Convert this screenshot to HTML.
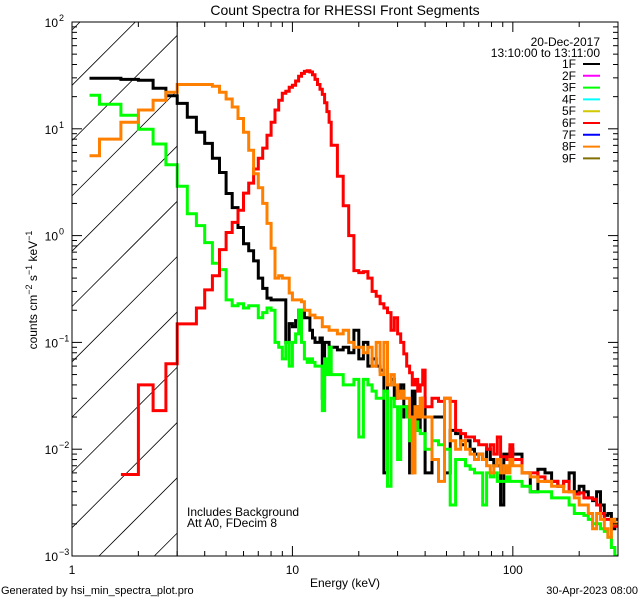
<!DOCTYPE html>
<html><head><meta charset="utf-8">
<style>
html,body{margin:0;padding:0;background:#fff;}
body{width:640px;height:600px;overflow:hidden;}
svg{display:block;}
svg text{font-family:"Liberation Sans",sans-serif;fill:#000;}
</style></head>
<body>
<svg id="chart" width="640" height="600" viewBox="0 0 640 600" xmlns="http://www.w3.org/2000/svg">
<rect width="640" height="600" fill="#fff"/>
<text x="345" y="15" font-size="14" text-anchor="middle">Count Spectra for RHESSI Front Segments</text>
<g id="hatch"></g>
<g id="series"></g>
<g id="axes"></g>
<text transform="translate(37,290) rotate(-90)" font-size="12" text-anchor="middle">counts cm<tspan dy="-5" font-size="9">−2</tspan><tspan dy="5"> s</tspan><tspan dy="-5" font-size="9">−1</tspan><tspan dy="5"> keV</tspan><tspan dy="-5" font-size="9">−1</tspan></text>
<text x="345" y="587" font-size="12" text-anchor="middle">Energy (keV)</text>
<text x="1" y="594" font-size="11">Generated by hsi_min_spectra_plot.pro</text>
<text x="638" y="594" font-size="11" text-anchor="end">30-Apr-2023 08:00</text>
<text x="187" y="516" font-size="12">Includes Background</text>
<text x="187" y="527" font-size="12">Att A0, FDecim 8</text>
<text x="600" y="46" font-size="12" text-anchor="end">20-Dec-2017</text>
<text x="600" y="57" font-size="12" text-anchor="end">13:10:00 to 13:11:00</text>
<g id="legend"></g>
</svg>
<script>
// ---- data: energy bin lower edges (keV) ----
const binEdges = [1.2,1.3333,1.6667,2,2.3333,2.6667,3,3.3333,3.6667,4,4.3333,4.6667,5,5.3333,5.6667,6,6.3333,6.6667,7,7.3333,7.6667,8,8.3333,8.6667,9,9.3333,9.6667,10,10.3333,10.6667,11,11.3333,11.6667,12,12.3333,12.6667,13,13.3333,13.6667,14,14.3333,14.6667,
15,16,17,18,19,20,21,22,23,24,25,26,27,28,29,30,31,32,33,34,35,36,37,38,39,
40,43,46,49,52,55,58,61,64,67,70,73,76,79,82,85,88,91,94,97,
100,110,120,130,140,150,160,170,180,190,200,210,220,230,240,250,260,270,280,290,300];
// ---- series values (counts cm^-2 s^-1 keV^-1) ----
const seg1F = [29.8,29.8,29,28.5,24,20.4,17.3,12.8,9.3,7.3,5.3,3.9,2.48,1.83,1.19,0.84,0.72,0.58,0.40,0.32,0.26,0.25,0.25,0.25,0.25,0.1,0.15,0.14,0.16,0.2,0.2,0.17,0.17,0.13,0.11,0.1,0.1,0.11,0.03,0.1,0.1,0.09,
0.09,0.085,0.09,0.08,0.13,0.07,0.1,0.06,0.07,0.06,0.055,0.006,0.04,0.045,0.03,0.035,0.04,0.02,0.025,0.006,0.035,0.025,0.015,0.025,0.03,
0.006,0.02,0.02,0.006,0.015,0.014,0.011,0.012,0.01,0.009,0.009,0.008,0.01,0.008,0.007,0.007,0.003,0.009,0.008,0.01,
0.009,0.006,0.004,0.0065,0.006,0.005,0.0045,0.005,0.006,0.004,0.0045,0.004,0.0035,0.0033,0.004,0.003,0.0024,0.0025,0.0018,0.0022];
const seg3F = [20.6,17,13.4,9.9,7.2,4.6,2.9,1.6,1.24,0.86,0.55,0.48,0.25,0.22,0.23,0.21,0.22,0.22,0.17,0.19,0.21,0.2,0.1,0.09,0.07,0.1,0.06,0.1,0.12,0.2,0.1,0.07,0.065,0.07,0.065,0.06,0.06,0.06,0.023,0.07,0.05,0.09,
0.05,0.05,0.04,0.04,0.045,0.013,0.045,0.04,0.035,0.03,0.03,0.035,0.0045,0.03,0.025,0.008,0.025,0.025,0.02,0.012,0.02,0.018,0.015,0.014,0.014,
0.01,0.012,0.011,0.01,0.003,0.008,0.008,0.007,0.0065,0.006,0.006,0.003,0.006,0.0055,0.006,0.005,0.005,0.005,0.0055,0.005,
0.005,0.0045,0.004,0.004,0.004,0.0035,0.0035,0.0035,0.003,0.0025,0.0025,0.0024,0.0022,0.002,0.002,0.0018,0.0017,0.0015,0.0012,0.0009];
const seg6F = [null,null,0.0058,0.040,0.023,0.063,0.149,0.149,0.21,0.31,0.42,0.74,1.07,1.33,1.73,2.5,3.1,4.2,5.3,6.6,8.7,11.5,15,18.5,21.5,22.5,24.5,25.6,28,31,33,34.5,35,34,32,29,26,23.5,21,17.5,14.5,11.5,
7.0,3.6,1.9,1.0,0.47,0.45,0.46,0.40,0.30,0.27,0.23,0.21,0.19,0.13,0.17,0.12,0.10,0.078,0.06,0.052,0.04,0.045,0.035,0.04,0.055,
0.025,0.03,0.028,0.03,0.028,0.015,0.014,0.013,0.013,0.012,0.011,0.011,0.01,0.011,0.009,0.013,0.0085,0.0085,0.008,0.011,
0.008,0.006,0.006,0.0055,0.005,0.005,0.0045,0.005,0.004,0.0038,0.0039,0.0035,0.0035,0.0034,0.003,0.0025,0.0022,0.0022,0.002,0.0019];
const seg8F = [5.6,8.0,11.5,15,18.5,22,26,26,26,26,25,22,19,16,12.5,9.3,6.3,3.8,2.8,2.0,1.3,0.76,0.40,0.42,0.40,0.40,0.29,0.25,0.25,0.25,0.24,0.2,0.2,0.18,0.18,0.17,0.17,0.17,0.14,0.14,0.14,0.13,
0.13,0.12,0.13,0.1,0.09,0.09,0.08,0.09,0.06,0.1,0.05,0.1,0.04,0.05,0.04,0.03,0.035,0.03,0.03,0.02,0.006,0.025,0.02,0.03,0.02,
0.02,0.008,0.005,0.03,0.012,0.01,0.012,0.01,0.009,0.008,0.009,0.008,0.007,0.006,0.007,0.008,0.006,0.007,0.006,0.008,
0.007,0.006,0.0055,0.005,0.005,0.0045,0.0045,0.004,0.004,0.0035,0.003,0.003,0.0025,0.0018,0.0025,0.0022,0.0018,0.0015,0.0022,0.002];
const legendLabels = ['1F','2F','3F','4F','5F','6F','7F','8F','9F'];
const legendColors = ['#000000','#ff00ff','#00ff00','#00ffff','#d4c800','#ff0000','#0000ff','#ff8000','#807000'];
const xTickLabels = ['1','10','100'];
const yTickExps = ['2','1','0','−1','−2','−3'];

// ---- axes geometry ----
const L=72,R=618,T=22,B=556;
const XMIN=1,XMAX=300,YMIN=1e-3,YMAX=100;
const NS='http://www.w3.org/2000/svg';
function xs(e){return L+(R-L)*(Math.log10(e)-Math.log10(XMIN))/(Math.log10(XMAX)-Math.log10(XMIN));}
function ys(v){return B-(B-T)*(Math.log10(v)-Math.log10(YMIN))/(Math.log10(YMAX)-Math.log10(YMIN));}
function mk(tag,attrs,parent){const el=document.createElementNS(NS,tag);for(const k in attrs)el.setAttribute(k,attrs[k]);parent.appendChild(el);return el;}

const svg=document.getElementById('chart');
const defs=mk('defs',{},svg);
const cp=mk('clipPath',{id:'plotclip'},defs);
mk('rect',{x:L,y:T,width:R-L,height:B-T},cp);

// hatch (lines computed inside region, no overflow)
const hg=document.getElementById('hatch');
const X3=xs(3);
for(let c=30;c<B+(X3-L);c+=55.3){
  let x1=L,y1=c,x2=X3,y2=c-(X3-L);
  if(y1>B){x1=L+(y1-B);y1=B;}
  if(y2<T){x2=X3-(T-y2);y2=T;}
  if(x2<=x1)continue;
  const ln=mk('line',{x1:x1,y1:y1,x2:x2,y2:y2,stroke:'#000','stroke-width':0.8},hg);
  
  
}
const vl=mk('line',{x1:X3,y1:T,x2:X3,y2:B,stroke:'#000','stroke-width':1},svg);



// series
const sg=document.getElementById('series');
sg.setAttribute('clip-path','url(#plotclip)');
function drawSeries(vals,color,name){
  let d='',pen=false;
  for(let i=0;i<vals.length;i++){
    const v=vals[i];
    if(v==null){pen=false;continue;}
    const x0=xs(binEdges[i]),x1=xs(binEdges[i+1]);
    const y=Math.min(B,ys(v));
    if(!pen){d+='M'+x0.toFixed(1)+' '+y.toFixed(1);pen=true;}
    else d+='L'+x0.toFixed(1)+' '+y.toFixed(1);
    d+='L'+x1.toFixed(1)+' '+y.toFixed(1);
  }
  const p=mk('path',{d:d,fill:'none',stroke:color,'stroke-width':3,'stroke-linejoin':'miter'},sg);
  
  
}
drawSeries(seg1F,'#000000','series-1f');
drawSeries(seg3F,'#00ff00','series-3f');
drawSeries(seg6F,'#ff0000','series-6f');
drawSeries(seg8F,'#ff8000','series-8f');

// axes
const ag=document.getElementById('axes');
const box=mk('rect',{x:L,y:T,width:R-L,height:B-T,fill:'none',stroke:'#000','stroke-width':1},ag);


for(let dec=0;dec<3;dec++){
  for(let m=1;m<10;m++){
    const e=Math.pow(10,dec)*m; if(e>XMAX)break;
    const x=xs(e),len=m==1?10:5;
    mk('line',{x1:x,y1:B,x2:x,y2:B-len,stroke:'#000'},ag);
    mk('line',{x1:x,y1:T,x2:x,y2:T+len,stroke:'#000'},ag);
  }
  const t=mk('text',{x:xs(Math.pow(10,dec)),y:574,'font-size':12,'text-anchor':'middle'},ag);
  t.textContent=xTickLabels[dec];
  
  
}
for(let k=0;k<6;k++){
  const p=2-k;
  for(let m=1;m<10;m++){
    const v=Math.pow(10,p)*m; if(v>YMAX)break;
    const y=ys(v),len=m==1?10:5;
    mk('line',{x1:L,y1:y,x2:L+len,y2:y,stroke:'#000'},ag);
    mk('line',{x1:R,y1:y,x2:R-len,y2:y,stroke:'#000'},ag);
  }
  const t=mk('text',{x:58,y:ys(Math.pow(10,p))+5,'font-size':12,'text-anchor':'end'},ag);
  t.textContent='10';
  
  
  const s=mk('text',{x:59,y:ys(Math.pow(10,p))-1,'font-size':9,'text-anchor':'start'},ag);
  s.textContent=yTickExps[k];
  
  
}

// legend
const lg=document.getElementById('legend');
for(let i=0;i<legendLabels.length;i++){
  const y=64+i*11.8;
  const t=mk('text',{x:576,y:y+4,'font-size':12,'text-anchor':'end'},lg);
  t.textContent=legendLabels[i];
  
  
  const l=mk('line',{x1:583,y1:y,x2:600,y2:y,stroke:legendColors[i],'stroke-width':2},lg);
  
  
}
</script>
</body></html>
